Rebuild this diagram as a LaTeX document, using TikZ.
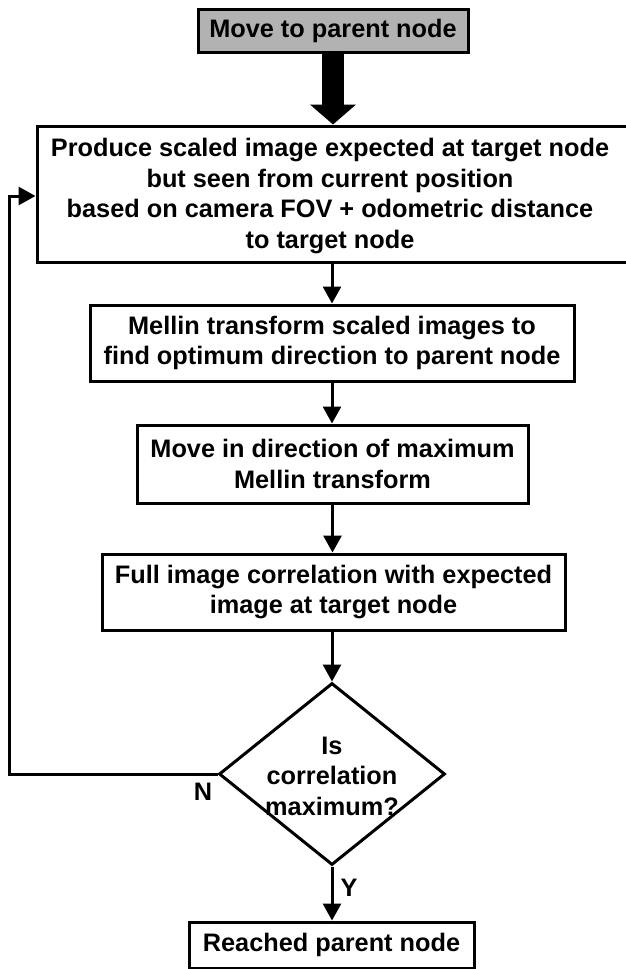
\documentclass[tikz,border=0pt]{standalone}
\usepackage{fontspec}
\setmainfont{Liberation Sans}
\usetikzlibrary{arrows.meta,shapes.geometric}
\begin{document}
\begin{tikzpicture}[x=1pt,y=-1pt,
  txt/.style={font=\fontsize{25.3}{30.5}\selectfont\bfseries, align=center, inner sep=0pt},
  stepbox/.style={txt, draw, line width=3pt, rectangle},
  flow/.style={line width=3pt, -{Triangle[length=17pt,width=18pt]}},
  bigflow/.style={line width=22pt, -{Triangle[length=20pt,width=45pt]}},
  decision/.style={draw, line width=3pt, diamond, inner sep=0pt, minimum width=226pt, minimum height=182pt}
]
\useasboundingbox (0,0) rectangle (625,969);
\node[stepbox, fill=black!30, minimum width=270pt, minimum height=43pt] (start) at (333,31) {Move to parent node};
\node[stepbox, minimum width=594pt, minimum height=136pt] (produce) at (334,194) {};
\node[txt] (producetext) at (330,196) {Produce scaled image expected at target node\\but seen from current position\\based on camera FOV + odometric distance\\to target node};
\node[stepbox, minimum width=484pt, minimum height=76pt] (mellin) at (332,343) {Mellin transform scaled images to\\find optimum direction to parent node};
\node[stepbox, minimum width=391pt, minimum height=78pt] (move) at (332.5,464) {Move in direction of maximum\\Mellin transform};
\node[stepbox, minimum width=463pt, minimum height=76pt] (corr) at (333.5,592) {Full image correlation with expected\\image at target node};
\node[decision] (dec) at (332,774) {};
\node[txt] (dectext) at (332,776) {Is\\correlation\\maximum?};
\node[stepbox, minimum width=285pt, minimum height=46pt] (reached) at (331.5,945) {Reached parent node};
\coordinate (loopbot) at (9,774);
\coordinate (looptop) at (9,196);

\draw[bigflow] (start.south) -- (start.south |- produce.north);
\draw[flow] (produce.south -| mellin.north) -- (mellin.north);
\draw[flow] (mellin.south) -- (move.north -| mellin.south);
\draw[flow] (move.south) -- (move.south |- corr.north);
\draw[flow] (corr.south -| dec.north) -- (dec.north);
\draw[flow] (dec.south) -- (dec.south |- reached.north);
\draw[flow] (dec.west) -- (loopbot) -- (looptop) -- (looptop -| produce.west);
\node[txt] (nlab) at (203,792) {N};
\node[txt] (ylab) at (349,888) {Y};
\end{tikzpicture}
\end{document}
